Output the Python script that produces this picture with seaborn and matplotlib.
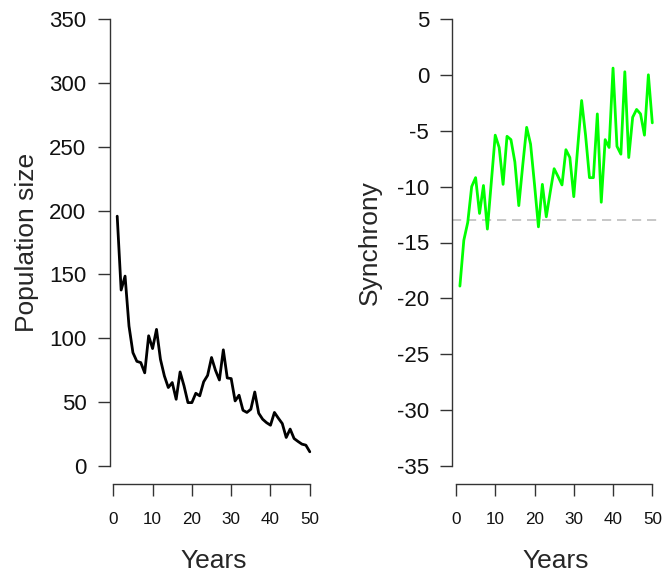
import matplotlib
matplotlib.use("Agg")
import matplotlib.pyplot as plt
import seaborn as sns
import pandas as pd

years = list(range(1, 51))

population = [195.6, 137.8, 148.7, 109.6, 88.8, 82.0, 81.0, 73.0, 102.0, 92.0,
              107.0, 83.6, 70.6, 61.5, 65.4, 52.3, 73.7, 62.8, 49.7, 49.7,
              57.0, 55.0, 66.0, 71.0, 85.0, 75.0, 67.4, 91.0, 69.0, 68.5,
              51.0, 55.5, 43.7, 42.0, 44.5, 58.0, 41.4, 36.7, 34.0, 32.0,
              42.0, 37.5, 33.3, 22.4, 29.0, 21.6, 19.3, 17.2, 16.4, 11.2]

synchrony = [-18.9, -14.8, -13.2, -10.0, -9.2, -12.4, -9.9, -13.8, -9.6, -5.4,
             -6.5, -9.8, -5.5, -5.8, -7.8, -11.7, -8.1, -4.7, -6.2, -9.8,
             -13.6, -9.8, -12.7, -10.5, -8.4, -9.1, -9.85, -6.7, -7.4, -10.9,
             -6.5, -2.3, -5.4, -9.2, -9.2, -3.5, -11.4, -5.8, -6.5, 0.6,
             -6.4, -7.1, 0.27, -7.4, -3.8, -3.1, -3.5, -5.4, 0.0, -4.3]

sync_threshold = -13

df = pd.DataFrame({"Years": years, "Population size": population, "Synchrony": synchrony})

sns.set_theme(style="ticks")
plt.rcParams["font.family"] = ["Liberation Sans", "DejaVu Sans"]
plt.rcParams["axes.unicode_minus"] = False

W, H = 672, 573
fig = plt.figure(figsize=(W / 100, H / 100), dpi=100)

axis_col = "#333333"


def style_axis(ax, yticks, ylo, yhi):
    ax.set_xlim(-0.96, 51.96)
    pad = (yhi - ylo) * 0.04
    ax.set_ylim(ylo - pad, yhi + pad)
    ax.set_xticks([0, 10, 20, 30, 40, 50])
    ax.set_yticks(yticks)
    for s in ["top", "right"]:
        ax.spines[s].set_visible(False)
    ax.spines["left"].set_bounds(ylo, yhi)
    ax.spines["bottom"].set_bounds(0, 50)
    for s in ["left", "bottom"]:
        ax.spines[s].set_color(axis_col)
        ax.spines[s].set_linewidth(1.0)
    ax.tick_params(axis="both", direction="out", length=8.4, width=1.0, color=axis_col)
    ax.tick_params(axis="y", labelsize=16, pad=8.2, labelcolor="#111111")
    ax.tick_params(axis="x", labelsize=12.3, pad=11.5, labelcolor="#111111")
    ax.grid(False)


# left panel
ax1 = fig.add_axes([109.5 / W, (H - 484) / H, 208 / W, 483 / H])
sns.lineplot(data=df, x="Years", y="Population size", color="black", linewidth=2.0, ax=ax1)
style_axis(ax1, [0, 50, 100, 150, 200, 250, 300, 350], 0, 350)
ax1.set_xlabel("Years", va="baseline", fontsize=19)
ax1.xaxis.set_label_coords(0.5, -(568 - 484) / 483)
ax1.set_ylabel("Population size", va="center", fontsize=19)
ax1.yaxis.set_label_coords((27 - 109.5) / 208, 0.5)

# right panel
ax2 = fig.add_axes([452.2 / W, (H - 484) / H, 207.8 / W, 483 / H])
ax2.axhline(sync_threshold, color="#BEBEBE", linewidth=1.2, dashes=(5.5, 3.5))
sns.lineplot(data=df, x="Years", y="Synchrony", color="#00FF00", linewidth=2.0, ax=ax2)
style_axis(ax2, [5, 0, -5, -10, -15, -20, -25, -30, -35], -35, 5)
ax2.set_xlabel("Years", va="baseline", fontsize=19)
ax2.xaxis.set_label_coords(0.5, -(568 - 484) / 483)
ax2.set_ylabel("Synchrony", va="center", fontsize=19)
ax2.yaxis.set_label_coords((370 - 452.2) / 207.8, 0.5)

fig.savefig("out.png", dpi=100, facecolor="white")
